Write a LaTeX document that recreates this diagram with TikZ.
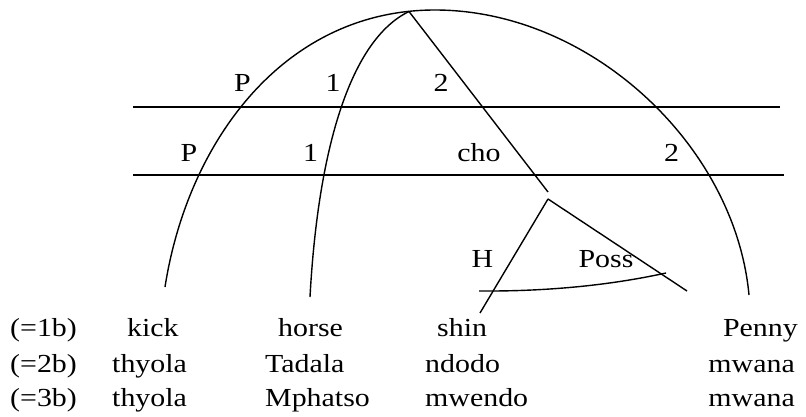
\documentclass[tikz,border=0pt]{standalone}
\usepackage{fontspec}
\setmainfont{Liberation Serif}[FakeStretch=1.15]
\usetikzlibrary{positioning}

\begin{document}
\begin{tikzpicture}[
  x=1pt,y=-1pt,
  font=\fontsize{26}{30}\selectfont,
  arcLine/.style={draw=black,line width=1.4pt},
  arcLabel/.style={anchor=base,inner sep=0pt},
  word/.style={anchor=base west,inner sep=0pt},
  wordR/.style={anchor=base east,inner sep=0pt},
]
\useasboundingbox (0,0) rectangle (806,417);

% end points of the arcs
\coordinate (top)     at (409,11.5);
\coordinate (crest)   at (435,10);
\coordinate (pEnd)    at (165,287);
\coordinate (oneEnd)  at (310,297);
\coordinate (twoEnd)  at (749,295);
\coordinate (choEnd)  at (548,192);
\coordinate (possTop) at (548,199);
\coordinate (hEnd)    at (480,313);
\coordinate (possEnd) at (687,291);
\coordinate (linkL)   at (479,291);
\coordinate (linkR)   at (666,273);

% strata
\coordinate (s1L) at (133,107); \coordinate (s1R) at (780,107);
\coordinate (s2L) at (133,175); \coordinate (s2R) at (784,175);
\draw[arcLine] (s1L) -- (s1R);
\draw[arcLine] (s2L) -- (s2R);

% P arc and 2 arc (one big curve over the top)
\draw[arcLine] (pEnd) .. controls (188,140) and (285,10) .. (crest)
                      .. controls (590,10) and (735,145) .. (twoEnd);

% 1 arc
\draw[arcLine] (top) .. controls (350,40) and (318,150) .. (oneEnd);

% 2 arc down to cho
\draw[arcLine] (top) -- (choEnd);

% possessor triangle
\draw[arcLine] (possTop) -- (hEnd);
\draw[arcLine] (possTop) -- (possEnd);
\draw[arcLine] (linkL) .. controls (546,291.5) and (609,285.5) .. (linkR);

% arc labels
\node[arcLabel] (pUp)    at (242.5,91.7) {P};
\node[arcLabel] (oneUp)  at (333,91.7)   {1};
\node[arcLabel] (twoUp)  at (441,91.7)   {2};
\node[arcLabel] (pLow)   at (189,161.7)  {P};
\node[arcLabel] (oneLow) at (310.5,161.7){1};
\node[arcLabel] (cho)    at (479,161.7)  {cho};
\node[arcLabel] (twoLow) at (671.7,161.7){2};
\node[arcLabel] (head)   at (482.5,267.3){H};
\node[arcLabel] (poss)   at (606,267.3)  {Poss};

% word rows
\node[word] (ex1)    at (10,336.7)  {(=1b)};
\node[word] (verb1)  at (127,336.7) {kick};
\node[word] (subj1)  at (278,336.7) {horse};
\node[word] (obj1)   at (437,336.7) {shin};
\node[wordR] (own1)  at (798,336.7) {Penny};

\node[word] (ex2)    at (10,372.7)  {(=2b)};
\node[word] (verb2)  at (112,372.7) {thyola};
\node[word] (subj2)  at (265,372.7) {Tadala};
\node[word] (obj2)   at (425,372.7) {ndodo};
\node[wordR] (own2)  at (795,372.7) {mwana};

\node[word] (ex3)    at (10,406.5)  {(=3b)};
\node[word] (verb3)  at (112,406.5) {thyola};
\node[word] (subj3)  at (265,406.5) {Mphatso};
\node[word] (obj3)   at (425,406.5) {mwendo};
\node[wordR] (own3)  at (795,406.5) {mwana};
\end{tikzpicture}
\end{document}
